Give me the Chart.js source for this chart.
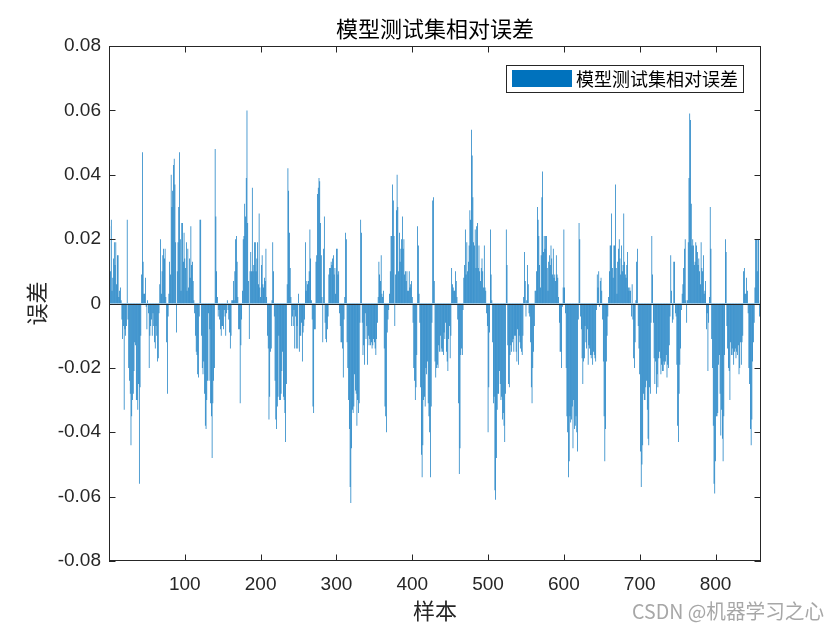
<!DOCTYPE html>
<html>
<head>
<meta charset="utf-8">
<script src="https://cdn.jsdelivr.net/npm/chart.js@4.4.1/dist/chart.umd.min.js"></script>
<style>
    html, body { margin: 0; padding: 0; background: #fff; }
    #wrap { width: 840px; height: 630px; }
</style>
</head>
<body>
<div id="wrap"><canvas id="errChart" width="840" height="630"></canvas></div>
<script>
// 模型测试集相对误差 (样本 1..859)
const errPart1 = [
    0.024, 0.010, 0.026, 0.004, 0.008, 0.014, 0.019, 0.012, 0.019, 0.006,
    0.015, 0.015, 0.002, 0.004, 0.005, 0.001, -0.005, -0.011, -0.007, -0.033,
    -0.008, -0.010, -0.007, 0.026, -0.005, -0.020, -0.024, -0.028, -0.044, -0.035,
    -0.030, -0.028, -0.021, -0.012, -0.013, -0.030, -0.030, -0.033, -0.025, -0.056,
    -0.026, -0.010, 0.009, 0.047, 0.013, 0.003, 0.003, 0.008, -0.001, -0.008,
    0.001, -0.003, -0.020, -0.010, -0.007, -0.005, -0.010, -0.003, -0.007, -0.012,
    -0.014, -0.007, -0.010, -0.018, -0.017, -0.003, 0.006, 0.020, 0.003, 0.010,
    0.015, 0.017, 0.014, 0.017, 0.002, -0.012, -0.028, -0.004, 0.003, 0.013,
    0.009, 0.040, 0.030, 0.035, 0.043, 0.045, 0.037, 0.019, -0.009, 0.010,
    0.019, 0.030, 0.047, 0.020, 0.004, 0.025, 0.025, 0.013, 0.022, 0.014
];
const errPart2 = [
    0.011, 0.019, 0.004, 0.017, 0.005, 0.014, 0.008, 0.024, 0.012, 0.013,
    0.007, 0.001, -0.003, -0.010, -0.015, -0.016, -0.022, -0.023, -0.004, 0.026,
    0.026, -0.010, -0.020, -0.022, -0.018, -0.028, -0.038, -0.039, -0.030, -0.024,
    -0.003, -0.024, -0.008, -0.031, -0.035, -0.048, -0.031, -0.024, -0.020, 0.048,
    0.027, 0.010, 0.002, -0.004, -0.002, -0.005, -0.008, -0.010, -0.007, -0.007,
    -0.008, -0.002, -0.004, -0.010, -0.003, 0.001, -0.002, -0.005, -0.009, -0.014,
    -0.010, 0.001, 0.001, 0.007, 0.001, 0.010, 0.020, 0.021, 0.013, 0.002,
    -0.008, -0.008, -0.031, -0.013, -0.005, 0.004, 0.020, 0.021, 0.031, 0.027,
    0.039, 0.060, 0.025, 0.007, -0.011, 0.010, 0.016, 0.010, 0.036, 0.010,
    0.012, 0.019, 0.019, 0.010, 0.014, 0.019, 0.006, 0.028, 0.005, 0.002
];
const errPart3 = [
    0.012, 0.015, 0.006, 0.005, 0.008, 0.007, 0.017, 0.002, -0.010, -0.014,
    -0.036, -0.029, -0.015, -0.014, 0.001, 0.019, 0.010, -0.004, -0.024, -0.036,
    -0.039, -0.032, -0.029, -0.010, -0.030, -0.030, -0.028, -0.021, -0.015, -0.029,
    -0.030, -0.034, -0.043, -0.025, 0.006, 0.042, 0.035, 0.022, 0.011, 0.002,
    -0.007, -0.004, -0.007, -0.002, -0.014, -0.004, -0.014, -0.007, -0.014, 0.003,
    -0.015, -0.010, -0.010, -0.006, -0.018, -0.009, -0.007, -0.005, 0.019, 0.004,
    0.007, 0.006, 0.007, 0.010, 0.023, 0.014, 0.001, -0.005, -0.032, -0.034,
    -0.008, -0.008, 0.013, 0.015, 0.034, 0.036, 0.039, 0.038, 0.025, 0.015,
    0.002, -0.012, 0.017, 0.027, -0.006, -0.011, -0.012, -0.008, -0.004, 0.009,
    0.011, 0.011, 0.013, 0.012, 0.014, 0.015, 0.009, 0.011, 0.003, 0.017
];
const errPart4 = [
    0.017, 0.009, 0.010, -0.003, -0.007, -0.012, -0.012, -0.014, -0.023, -0.005,
    0.002, 0.022, 0.020, -0.012, -0.020, -0.030, -0.039, -0.057, -0.062, -0.045,
    -0.033, -0.034, -0.032, -0.022, -0.027, -0.028, -0.038, -0.030, -0.034, -0.031,
    -0.006, 0.026, 0.022, -0.006, -0.016, -0.013, -0.019, -0.003, -0.011, -0.007,
    -0.019, -0.010, -0.013, -0.011, -0.013, -0.012, -0.014, -0.013, -0.011, -0.012,
    -0.014, -0.016, -0.011, -0.006, 0.002, 0.013, 0.009, 0.007, 0.015, 0.003,
    0.002, 0.004, -0.014, -0.032, -0.035, -0.040, -0.009, -0.005, -0.002, 0.003,
    0.010, 0.021, 0.021, 0.037, 0.032, 0.021, -0.007, 0.009, 0.029, 0.040,
    0.030, 0.010, 0.022, 0.013, 0.017, 0.020, 0.027, 0.017, 0.020, 0.009,
    0.010, 0.007, 0.010, 0.004, 0.004, 0.010, 0.005, 0.006, 0.007, 0.002
];
const errPart5 = [
    -0.006, -0.020, -0.024, -0.030, -0.026, -0.016, 0.024, 0.018, 0.003, -0.006,
    -0.026, -0.047, -0.054, -0.044, -0.030, -0.029, -0.032, -0.020, -0.022, -0.018,
    -0.031, -0.035, -0.040, -0.054, -0.032, -0.006, 0.032, 0.033, 0.007, -0.018,
    -0.023, -0.020, -0.019, -0.020, -0.013, -0.015, -0.010, -0.015, -0.014, -0.015,
    -0.016, -0.009, -0.011, -0.006, -0.015, -0.018, -0.021, -0.011, -0.007, -0.017,
    -0.010, 0.011, 0.006, 0.005, 0.004, 0.004, 0.010, 0.007, 0.002, -0.005,
    -0.031, -0.053, -0.045, -0.016, -0.014, -0.016, -0.002, 0.008, 0.012, 0.023,
    0.009, 0.019, 0.010, 0.013, 0.018, 0.029, 0.026, 0.054, 0.046, 0.033,
    0.019, 0.018, 0.023, 0.011, 0.024, 0.025, 0.011, 0.018, 0.010, 0.007,
    0.011, 0.014, 0.010, 0.005, 0.018, 0.005, 0.004, -0.003, -0.007, -0.040
];
const errPart6 = [
    -0.026, -0.009, 0.023, 0.009, 0.001, -0.012, -0.031, -0.029, -0.058, -0.061,
    -0.048, -0.033, -0.028, -0.028, -0.021, -0.025, -0.030, -0.029, -0.036, -0.034,
    -0.038, -0.043, -0.028, 0.023, 0.012, -0.013, -0.025, -0.026, -0.016, -0.013,
    -0.015, -0.012, -0.011, -0.015, -0.010, -0.010, -0.015, -0.018, -0.008, -0.019,
    -0.010, -0.012, -0.014, -0.015, -0.016, -0.010, 0.002, 0.016, 0.007, -0.004,
    0.001, 0.012, 0.006, -0.003, -0.004, -0.012, -0.026, -0.031, -0.020, -0.015,
    -0.007, 0.004, 0.004, 0.010, 0.030, 0.026, 0.021, 0.012, 0.005, 0.015,
    0.033, 0.041, 0.016, 0.021, 0.017, 0.021, 0.021, 0.011, 0.004, 0.013,
    0.015, 0.012, 0.018, 0.014, 0.009, 0.017, 0.008, 0.009, 0.007, 0.015,
    0.009, 0.008, 0.002, -0.006, -0.015, -0.015, -0.020, -0.001, 0.005, 0.023
];
const errPart7 = [
    0.005, -0.003, -0.020, -0.035, -0.040, -0.054, -0.049, -0.035, -0.037, -0.036,
    -0.032, -0.045, -0.030, -0.039, -0.038, -0.035, -0.040, -0.046, -0.005, 0.025,
    0.020, -0.004, -0.008, -0.017, -0.025, -0.018, -0.017, -0.007, -0.012, -0.014,
    -0.008, -0.019, -0.013, -0.014, -0.016, -0.017, -0.016, -0.019, -0.015, -0.016,
    -0.017, -0.018, -0.002, 0.009, 0.005, 0.010, -0.001, 0.007, 0.008, 0.004,
    -0.005, -0.018, -0.035, -0.049, -0.039, -0.018, -0.010, -0.004, 0.002, 0.010,
    0.018, 0.018, 0.028, 0.011, 0.008, 0.018, 0.018, 0.037, 0.011, 0.003,
    0.013, 0.017, 0.020, 0.014, 0.009, 0.018, 0.010, 0.012, 0.028, 0.013,
    0.009, 0.008, 0.012, 0.016, 0.005, 0.004, 0.005, 0.004, -0.004, 0.006,
    -0.005, -0.017, -0.020, -0.012, 0.001, 0.013, 0.017, -0.007, -0.014, -0.022
];
const errPart8 = [
    -0.046, -0.057, -0.050, -0.044, -0.028, -0.030, -0.030, -0.026, -0.024, -0.033,
    -0.042, -0.044, -0.026, -0.028, -0.006, 0.021, 0.009, -0.006, -0.017, -0.025,
    -0.018, -0.028, -0.022, -0.026, -0.017, -0.015, -0.017, -0.022, -0.019, -0.021,
    -0.021, -0.018, -0.019, -0.018, -0.016, -0.023, -0.019, -0.020, -0.013, -0.004,
    0.015, 0.004, -0.006, -0.005, 0.013, 0.013, -0.003, -0.004, -0.019, -0.038,
    -0.043, -0.028, -0.019, -0.014, -0.002, 0.003, 0.006, 0.011, 0.017, 0.020,
    0.001, -0.006, 0.001, 0.019, 0.039, 0.059, 0.057, 0.031, 0.018, 0.020,
    0.018, 0.012, 0.013, 0.019, 0.018, 0.016, 0.012, 0.014, 0.010, 0.006,
    0.019, 0.011, 0.010, 0.015, 0.003, 0.004, 0.007, -0.008, -0.003, -0.021,
    -0.006, 0.002, 0.030, 0.017, -0.011, -0.020, -0.038, -0.056, -0.059, -0.049
];
const errPart9 = [
    -0.035, -0.035, -0.034, -0.019, -0.016, -0.028, -0.041, -0.033, -0.042, -0.049,
    -0.035, -0.016, 0.020, 0.016, -0.007, -0.014, -0.020, -0.021, -0.030, -0.012,
    -0.016, -0.014, -0.016, -0.019, -0.015, -0.014, -0.017, -0.015, -0.016, -0.013,
    -0.022, -0.020, -0.012, -0.019, -0.012, -0.010, 0.010, 0.011, 0.003, 0.003,
    0.008, 0.004, -0.003, -0.020, -0.025, -0.039, -0.044, -0.036, -0.018, -0.012,
    -0.006, 0.005, 0.020, 0.020, 0.010, 0.020, 0.020, -0.004, 0.001
];

const relErr = [].concat(errPart1, errPart2, errPart3, errPart4, errPart5,
                         errPart6, errPart7, errPart8, errPart9);
const samples = relErr.map((v, i) => i + 1);

const xTicks = [100, 200, 300, 400, 500, 600, 700, 800];
const yTicks = [-0.08, -0.06, -0.04, -0.02, 0, 0.02, 0.04, 0.06, 0.08];

const TITLE = '模型测试集相对误差';
const AXIS_COLOR = '#262626';
const BAR_COLOR = '#0072BD';
const CJK = '"Noto Sans CJK SC", "Noto Sans", sans-serif';
const LATIN = '"Liberation Sans", Arial, sans-serif';

// 标题、坐标框、内向刻度、零线、图例和水印
const matlabAxes = {
    id: 'matlabAxes',
    afterDatasetsDraw(chart) {
        const ctx = chart.ctx;
        const a = chart.chartArea;
        const xs = chart.scales.x;
        const ys = chart.scales.y;
        const tl = 6.5;
        ctx.save();
        ctx.strokeStyle = AXIS_COLOR;
        ctx.lineWidth = 1;

        // 零线
        const y0 = Math.round(ys.getPixelForValue(0)) + 0.5;
        ctx.beginPath();
        ctx.moveTo(a.left, y0);
        ctx.lineTo(a.right, y0);
        ctx.stroke();

        ctx.beginPath();
        xTicks.forEach(v => {
            const px = Math.round(xs.getPixelForValue(v)) + 0.5;
            ctx.moveTo(px, a.bottom); ctx.lineTo(px, a.bottom - tl);
            ctx.moveTo(px, a.top); ctx.lineTo(px, a.top + tl);
        });
        yTicks.forEach(v => {
            const py = Math.round(ys.getPixelForValue(v)) + 0.5;
            ctx.moveTo(a.left, py); ctx.lineTo(a.left + tl, py);
            ctx.moveTo(a.right, py); ctx.lineTo(a.right - tl, py);
        });
        ctx.stroke();
        ctx.strokeRect(Math.round(a.left) + 0.5, Math.round(a.top) + 0.5,
                       Math.round(a.right - a.left) - 1, Math.round(a.bottom - a.top) - 1);

        // 标题 (居中于坐标区)
        ctx.fillStyle = '#000';
        ctx.font = '22px ' + CJK;
        ctx.textAlign = 'center';
        ctx.textBaseline = 'middle';
        ctx.fillText(TITLE, (a.left + a.right) / 2, 29);

        // 图例
        const ds = chart.data.datasets[0];
        ctx.fillStyle = '#fff';
        ctx.fillRect(507, 66, 236, 26);
        ctx.strokeRect(506.5, 65.5, 237, 27);
        ctx.fillStyle = ds.backgroundColor;
        ctx.fillRect(512, 70, 60, 17);
        ctx.fillStyle = '#000';
        ctx.font = '18px ' + CJK;
        ctx.textAlign = 'left';
        ctx.fillText(ds.label, 576, 79);

        // 水印
        ctx.fillStyle = 'rgba(120, 120, 120, 0.65)';
        ctx.font = '20px ' + CJK;
        ctx.textAlign = 'right';
        ctx.fillText('CSDN @机器学习之心', 824, 611, 192);
        ctx.restore();
    }
};

new Chart(document.getElementById('errChart').getContext('2d'), {
    type: 'bar',
    data: {
        labels: samples,
        datasets: [{
            label: TITLE,
            data: relErr,
            backgroundColor: BAR_COLOR,
            borderWidth: 0,
            barPercentage: 1,
            categoryPercentage: 0.9
        }]
    },
    options: {
        responsive: false,
        animation: false,
        devicePixelRatio: 1,
        layout: { padding: { top: 46, right: 79 } },
        plugins: {
            legend: { display: false },
            tooltip: { enabled: false },
            title: { display: false }
        },
        scales: {
            x: {
                type: 'linear',
                offset: false,
                min: 0,
                max: 860,
                grid: { display: false, drawTicks: false, offset: false },
                border: { display: false },
                afterBuildTicks: s => { s.ticks = xTicks.map(v => ({ value: v })); },
                afterFit: s => { s.height = 69; },
                ticks: {
                    color: AXIS_COLOR,
                    font: { family: LATIN, size: 19 },
                    padding: 12,
                    maxRotation: 0,
                    autoSkip: false
                },
                title: {
                    display: true,
                    text: '样本',
                    color: AXIS_COLOR,
                    font: { family: CJK, size: 22 },
                    padding: { top: 0, bottom: 6 }
                }
            },
            y: {
                min: -0.08,
                max: 0.08,
                grid: { display: false, drawTicks: false },
                border: { display: false },
                afterBuildTicks: s => { s.ticks = yTicks.map(v => ({ value: v })); },
                afterFit: s => { s.width = 109; },
                ticks: {
                    color: AXIS_COLOR,
                    font: { family: LATIN, size: 19 },
                    padding: 8,
                    callback: v => String(Math.round(v * 100) / 100)
                },
                title: {
                    display: true,
                    text: '误差',
                    color: AXIS_COLOR,
                    font: { family: CJK, size: 22 },
                    padding: { top: 23, bottom: 0 }
                }
            }
        }
    },
    plugins: [matlabAxes]
});
</script>
</body>
</html>
